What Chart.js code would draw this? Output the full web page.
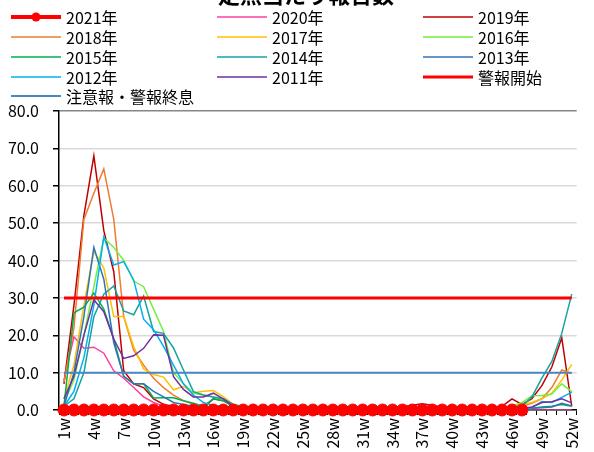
<!DOCTYPE html>
<html>
<head>
<meta charset="utf-8">
<script src="https://cdn.jsdelivr.net/npm/chart.js@4.4.0/dist/chart.umd.min.js"></script>
<style>
  html, body { margin: 0; padding: 0; background: #fff; }
</style>
</head>
<body>
<canvas id="line" width="594" height="452"></canvas>
<script>
// 週ラベル 1w〜52w
const weeks = [];
for (let i = 1; i <= 52; i++) weeks.push(i + 'w');

// 定点当たり報告数（年別）
const y2021 = [0, 0, 0, 0, 0, 0, 0, 0, 0, 0, 0, 0, 0, 0, 0, 0, 0, 0, 0, 0, 0, 0, 0, 0,
  0, 0, 0, 0, 0, 0, 0, 0, 0, 0, 0, 0, 0, 0, 0, 0, 0, 0, 0, 0, 0, 0, 0];
const y2020 = [8, 19.6, 16.5, 16.8, 15.2, 10.5, 8.5, 6, 3.5, 2, 1, 0.5, 0.3, 0.2, 0.1, 0.1, 0.1, 0.1,
  0.1, 0.1, 0, 0, 0, 0, 0, 0, 0, 0, 0, 0, 0, 0, 0, 0, 0,
  0, 0, 0, 0, 0, 0, 0, 0, 0, 0,
  0, 0, 0, 0, 0, 0, 0];
const y2019 = [7, 28, 52, 68, 48, 37, 10.5, 7, 6, 3, 1.5, 1, 0.8, 0.6, 0.5, 3, 2.5, 1,
  0.5, 0.4, 0.3, 0.3, 0.2, 0.2, 0.2, 0.2, 0.2, 0.2, 0.2, 0.3, 0.3, 0.4, 0.5, 0.6, 0.9,
  1.3, 1.7, 1.2, 0.8, 0.6, 0.5, 0.5, 0.6, 0.7, 1.0,
  3.0, 1.5, 3.0, 6.5, 11.5, 19.3, 1.0];
const y2018 = [7.5, 22, 51, 58, 64.5, 51, 25, 16, 12, 8.5, 6, 4, 2.5, 1.5, 1, 0.7, 0.5, 0.4,
  0.3, 0.3, 0.2, 0.2, 0.2, 0.2, 0.1, 0.1, 0.1, 0.1, 0.1, 0.1, 0.1, 0.1, 0.1, 0.1, 0.1,
  0.1, 0.1, 0.1, 0.1, 0.1, 0.2, 0.2, 0.2, 0.3, 0.4,
  0.6, 1.0, 1.8, 3.0, 6.0, 10.7, 9.8];
const y2017 = [3, 12, 28, 42.5, 38, 25, 25, 17, 11, 9.5, 8.8, 5.4, 6.3, 4.6, 5, 5.2, 3.6, 1.5,
  1.0, 0.8, 0.6, 0.5, 0.4, 0.3, 0.3, 0.2, 0.2, 0.2, 0.2, 0.2, 0.2, 0.2, 0.2, 0.2, 0.2,
  0.2, 0.2, 0.2, 0.2, 0.2, 0.2, 0.3, 0.3, 0.4, 0.6,
  1.0, 1.5, 2.0, 3.0, 4.5, 8.0, 12.2];
const y2016 = [2, 8, 20, 33, 46, 43.5, 40, 34.5, 33, 27, 21, 10, 7, 4.5, 4, 3.5, 2.5, 1,
  0.6, 0.4, 0.3, 0.2, 0.2, 0.1, 0.1, 0.1, 0.1, 0.1, 0.1, 0.1, 0.1, 0.1, 0.1, 0.1, 0.1,
  0.1, 0.1, 0.1, 0.1, 0.1, 0.1, 0.2, 0.2, 0.3, 0.5,
  1.0, 2.0, 3.8, 3.9, 4.3, 7.0, 4.9];
const y2015 = [1, 26, 27.5, 31.3, 27, 19, 9, 7, 7, 3.2, 3.3, 3.3, 2.5, 1.8, 1.0, 3.0, 2.5, 1.0,
  0.5, 0.3, 0.2, 0.2, 0.1, 0.1, 0.1, 0.1, 0.1, 0.1, 0.1, 0.1, 0.1, 0.1, 0.1, 0.1, 0.1,
  0.1, 0.1, 0.1, 0.1, 0.1, 0.1, 0.1, 0.1, 0.1, 0.1,
  0.2, 0.3, 0.5, 0.8, 1.0, 1.5, 1.0];
const y2014 = [1, 3, 10, 25, 31, 33.2, 26.5, 25.5, 30.5, 21, 20.5, 16.6, 10.7, 4.9, 4, 3.5, 3, 1.5,
  0.8, 0.5, 0.3, 0.2, 0.2, 0.1, 0.1, 0.1, 0.1, 0.1, 0.1, 0.1, 0.1, 0.1, 0.1, 0.1, 0.1,
  0.1, 0.1, 0.1, 0.1, 0.1, 0.1, 0.1, 0.1, 0.2, 0.4,
  0.6, 1.0, 3.5, 8.5, 13.0, 20.5, 31.0];
const y2013 = [1, 10, 25, 43.5, 35, 18, 9, 7, 7, 5, 3.5, 2, 1.5, 1, 1, 0.8, 0.6, 0.4,
  0.3, 0.2, 0.2, 0.1, 0.1, 0.1, 0.1, 0.1, 0.1, 0.1, 0.1, 0.1, 0.1, 0.1, 0.1, 0.1, 0.1,
  0.1, 0.1, 0.1, 0.1, 0.1, 0.1, 0.1, 0.1, 0.1, 0.1,
  0.2, 0.3, 0.5, 0.6, 0.8, 1.8, 1.1];
const y2012 = [1, 5, 14, 28, 46.3, 38.8, 39.7, 34.8, 24.3, 21.5, 17, 12, 7, 4, 2, 1.2, 1, 0.6,
  0.4, 0.3, 0.2, 0.1, 0.1, 0.1, 0.1, 0.1, 0.1, 0.1, 0.1, 0.1, 0.1, 0.1, 0.1, 0.1, 0.1,
  0.1, 0.1, 0.1, 0.1, 0.1, 0.1, 0.1, 0.1, 0.1, 0.1,
  0.2, 0.3, 0.6, 2.3, 2.0, 3.4, 4.8];
const y2011 = [3, 9, 20, 29.5, 26.3, 19, 13.8, 14.5, 16.5, 20.1, 20, 8.9, 5.5, 3.5, 3.5, 4.5, 3, 1,
  0.5, 0.3, 0.2, 0.1, 0.1, 0.1, 0.1, 0.1, 0.1, 0.1, 0.1, 0.1, 0.1, 0.1, 0.1, 0.1, 0.1,
  0.1, 0.1, 0.1, 0.1, 0.1, 0.1, 0.1, 0.1, 0.1, 0.1,
  0.2, 0.4, 0.8, 2.0, 2.2, 3.0, 1.9];

// 基準値
const alarmStart = 30;  // 警報開始
const alertEnd = 10;    // 注意報・警報終息

const font = '"Noto Sans CJK JP", "Noto Sans", sans-serif';

function yearLine(label, data, color) {
  return { label: label, data: data, borderColor: color, backgroundColor: color, borderWidth: 1.5, pointRadius: 0 };
}

const datasets = [
  { label: '2021年', data: y2021, borderColor: '#FF0000', backgroundColor: '#FF0000',
    borderWidth: 4, pointRadius: 6, pointBorderWidth: 1, pointBorderColor: '#FF0000',
    pointBackgroundColor: '#FF0000', clip: false },
  yearLine('2020年', y2020, '#FF3FA0'),
  yearLine('2019年', y2019, '#C00000'),
  yearLine('2018年', y2018, '#ED7D31'),
  yearLine('2017年', y2017, '#FFC000'),
  yearLine('2016年', y2016, '#70F040'),
  yearLine('2015年', y2015, '#00B050'),
  yearLine('2014年', y2014, '#17A2A2'),
  yearLine('2013年', y2013, '#2E75B6'),
  yearLine('2012年', y2012, '#00B0F0'),
  yearLine('2011年', y2011, '#7030A0'),
  { label: '警報開始', data: weeks.map(() => alarmStart), borderColor: '#FF0000',
    borderWidth: 3, pointRadius: 0 },
  { label: '注意報・警報終息', data: weeks.map(() => alertEnd), borderColor: '#4A86C0',
    borderWidth: 2, pointRadius: 0 }
];
// 後の系列を上に重ねる（2021年の点は最前面）
datasets.forEach((d, i) => { d.order = -i; });
datasets[0].order = -100;

// タイトルと3列の凡例
const legendBox = {
  id: 'legendBox',
  afterDraw(chart) {
    const ctx = chart.ctx;
    ctx.save();
    ctx.fillStyle = '#000';
    ctx.font = 'bold 22px ' + font;
    ctx.textAlign = 'center';
    ctx.textBaseline = 'ideographic';
    ctx.fillText('定点当たり報告数', 306, 6);

    const colX = [11, 217, 423];
    const rowY = [17, 37, 57, 77, 96];
    ctx.font = '16px ' + font;
    ctx.textAlign = 'left';
    ctx.textBaseline = 'middle';
    chart.data.datasets.forEach((ds, i) => {
      const x = colX[i % 3];
      const y = rowY[Math.floor(i / 3)];
      ctx.strokeStyle = ds.borderColor;
      ctx.lineWidth = ds.borderWidth;
      ctx.beginPath();
      ctx.moveTo(x, y);
      ctx.lineTo(x + 50, y);
      ctx.stroke();
      if (ds.pointRadius > 0) {
        ctx.fillStyle = ds.pointBackgroundColor;
        ctx.beginPath();
        ctx.arc(x + 25, y, 4.5, 0, Math.PI * 2);
        ctx.fill();
      }
      ctx.fillStyle = '#000';
      ctx.fillText(ds.label, x + 55, y + 1);
    });
    ctx.restore();
  }
};

new Chart(document.querySelector('#line'), {
  type: 'line',
  data: { labels: weeks, datasets: datasets },
  options: {
    responsive: false,
    animation: false,
    layout: { padding: { top: 111, right: 4, left: 0, bottom: 0 } },
    plugins: {
      legend: { display: false },
      tooltip: { enabled: false }
    },
    elements: { line: { tension: 0 } },
    scales: {
      x: {
        offset: true,
        grid: { offset: true, drawOnChartArea: false, tickLength: 5, tickColor: '#000' },
        border: { color: '#000', width: 1.5 },
        ticks: {
          autoSkip: false, maxRotation: 90, minRotation: 90, padding: 3,
          color: '#000', font: { family: font, size: 16 },
          callback: (v, i) => (i % 3 === 0 ? weeks[i] : '')
        },
        afterFit: (s) => { s.height = 42; }
      },
      y: {
        min: 0, max: 80,
        ticks: {
          stepSize: 10, padding: 14, color: '#000',
          font: { family: font, size: 16 },
          callback: (v) => v.toFixed(1)
        },
        grid: {
          color: (c) => (c.tick && c.tick.value === 80 ? '#868686' : '#d9d9d9'),
          lineWidth: 1.5, tickLength: 6, tickColor: '#000'
        },
        border: { color: '#000', width: 1.5 },
        afterFit: (s) => { s.width = 59; }
      }
    }
  },
  plugins: [legendBox]
});
</script>
</body>
</html>
